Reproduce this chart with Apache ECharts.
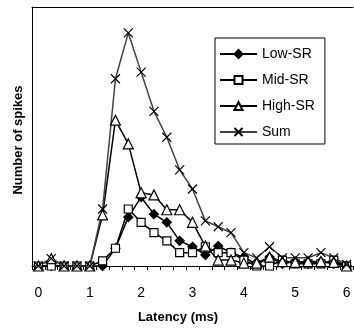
<!DOCTYPE html>
<html>
<head>
<meta charset="utf-8">
<script src="https://cdn.jsdelivr.net/npm/echarts@6/dist/echarts.min.js"></script>
<style>html,body{margin:0;padding:0;background:#fff;}#c{width:354px;height:329px;}</style>
</head>
<body>
<div id="c"></div>
<script>
var latency = ['0','0.25','0.5','0.75','1','1.25','1.5','1.75','2','2.25','2.5','2.75','3','3.25','3.5','3.75','4','4.25','4.5','4.75','5','5.25','5.5','5.75','6'];
var lowSR  = [0,0,0,0,0,0,2.4,6.6,9.3,7.0,5.9,3.4,2.6,1.5,2.7,1.8,1.2,0.2,1.2,0.3,0.6,0.3,0.6,0.3,0];
var midSR  = [0,0,0,0,0,0.7,2.4,7.7,5.9,4.5,3.4,1.8,1.8,2.6,1.8,1.8,0.8,0,0,0.8,0.3,0.3,0.3,0.8,0];
var highSR = [0,1.0,0,0,0,6.9,19.7,16.5,9.9,9.6,7.6,7.6,5.9,2.7,0.8,0.8,0.4,0.4,1.2,0.6,0.5,0.6,0.6,0.5,0];
var sumSR  = [0,1.0,0,0,0,7.7,25.3,31.5,26.2,20.9,17.4,13.0,10.4,6.1,5.3,4.5,1.8,1.1,2.6,1.1,1.1,1.1,1.8,1.1,0.2];
var seriesNames = ['Low-SR','Mid-SR','High-SR','Sum'];
var xTitle = 'Latency (ms)';
var yTitle = 'Number of spikes';

var FONT = '"Liberation Sans", Arial, sans-serif';
var chart = echarts.init(document.getElementById('c'), null, {renderer:'canvas'});
var xPath = 'path://M0,0L10,10M10,0L0,10';
function mk(name, data, symbol, size, fill, lineColor){
  return {
    name: name, type: 'line', data: data, symbol: symbol, symbolSize: size,
    showAllSymbol: true, animation: false,
    lineStyle: {color: lineColor, width: 1.5},
    itemStyle: {color: fill, borderColor: '#000', borderWidth: 1.2},
    emphasis: {disabled: true}
  };
}
chart.setOption({
  animation: false,
  grid: {left: 32, right: 1, top: 7, bottom: 63},
  xAxis: [{
    type: 'category', data: latency, boundaryGap: true,
    axisLine: {lineStyle: {color: '#000', width: 1}},
    axisTick: {show: true, interval: 0, length: 4, lineStyle: {color: '#000'}},
    axisLabel: {interval: 3, margin: 20, color: '#000', fontSize: 14, fontFamily: FONT},
    splitLine: {show: false}
  },{
    type: 'category', data: latency, position: 'top',
    axisLine: {show: true, lineStyle: {color: '#000', width: 1}},
    axisTick: {show: false}, axisLabel: {show: false}, splitLine: {show: false}
  }],
  yAxis: {
    type: 'value', min: 0, max: 35,
    axisLine: {show: true, lineStyle: {color: '#000', width: 1}},
    axisTick: {show: false}, axisLabel: {show: false}, splitLine: {show: false}
  },
  legend: {
    orient: 'vertical', left: 215, top: 38,
    data: seriesNames,
    itemWidth: 37, itemHeight: 10, itemGap: 12,
    padding: [9, 10, 5, 4],
    borderColor: '#000', borderWidth: 1, backgroundColor: '#fff',
    textStyle: {color: '#000', fontSize: 14, fontFamily: FONT}
  },
  graphic: [
    {type: 'text', x: 18, y: 140, rotation: Math.PI/2,
     style: {text: yTitle, font: 'bold 13px ' + FONT, fill: '#000', align: 'center', verticalAlign: 'middle'}},
    {type: 'text', x: 178, y: 317,
     style: {text: xTitle, font: 'bold 13px ' + FONT, fill: '#000', align: 'center', verticalAlign: 'middle'}}
  ],
  series: [
    mk(seriesNames[0], lowSR, 'diamond', 9, '#000', '#000'),
    mk(seriesNames[1], midSR, 'rect', 8, '#fff', '#000'),
    mk(seriesNames[2], highSR, 'triangle', 10, '#fff', '#000'),
    mk(seriesNames[3], sumSR, xPath, 9, '#000', '#404040')
  ]
});
</script>
</body>
</html>
